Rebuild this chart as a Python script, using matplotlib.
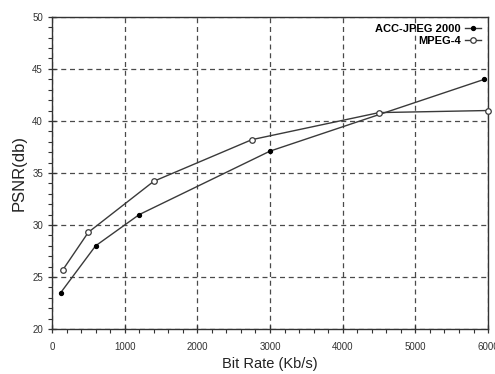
import matplotlib
matplotlib.use("Agg")
import matplotlib.pyplot as plt
from matplotlib.ticker import MultipleLocator

plt.rcParams['font.family'] = ['Liberation Sans', 'DejaVu Sans']

# ACC-JPEG 2000
acc_rate = [120, 600, 1200, 3000, 5950]
acc_psnr = [23.5, 28.0, 31.0, 37.1, 44.0]

# MPEG-4
mpeg_rate = [150, 500, 1400, 2750, 4500, 6000]
mpeg_psnr = [25.7, 29.3, 34.2, 38.2, 40.8, 41.0]

fig = plt.figure(figsize=(4.95, 3.74), dpi=100)
ax = fig.add_axes([0.105, 0.12, 0.881, 0.835])

line_col = '#3a3a3a'
ax.plot(acc_rate, acc_psnr, color=line_col, lw=1.0, marker='o', ms=2.8,
        mfc='black', mec='black', label='ACC-JPEG 2000', clip_on=False, zorder=3)
ax.plot(mpeg_rate, mpeg_psnr, color=line_col, lw=1.0, marker='o', ms=4,
        mfc='white', mec=line_col, mew=0.9, label='MPEG-4', clip_on=False, zorder=3)

ax.set_xlim(0, 6000)
ax.set_ylim(20, 50)
ax.xaxis.set_major_locator(MultipleLocator(1000))
ax.xaxis.set_minor_locator(MultipleLocator(200))
ax.yaxis.set_major_locator(MultipleLocator(5))
ax.yaxis.set_minor_locator(MultipleLocator(1))

ax.grid(True, which='major', linestyle=(0, (4, 3)), color='#4a4a4a', lw=0.9)
ax.set_axisbelow(True)

ax.tick_params(which='major', direction='inout', length=6, width=0.9,
               labelsize=7, labelcolor='#333333', color='#333333')
ax.tick_params(which='minor', direction='out', length=3, width=0.8, color='#333333')
ax.tick_params(axis='x', pad=6)
for s in ax.spines.values():
    s.set_color('#333333')
    s.set_linewidth(1.0)

ax.set_xlabel('Bit Rate (Kb/s)', fontsize=10.5, color='#222222', labelpad=4)
ax.set_ylabel('PSNR(db)', fontsize=12, color='#222222', labelpad=4)

leg = ax.legend(loc='upper right', frameon=False, markerfirst=False,
                handlelength=1.4, handletextpad=0.4, labelspacing=0.2,
                borderaxespad=0.25, prop={'weight': 'bold', 'size': 8})
for t in leg.get_texts():
    t.set_ha('right')

fig.savefig('out.png', dpi=100)
